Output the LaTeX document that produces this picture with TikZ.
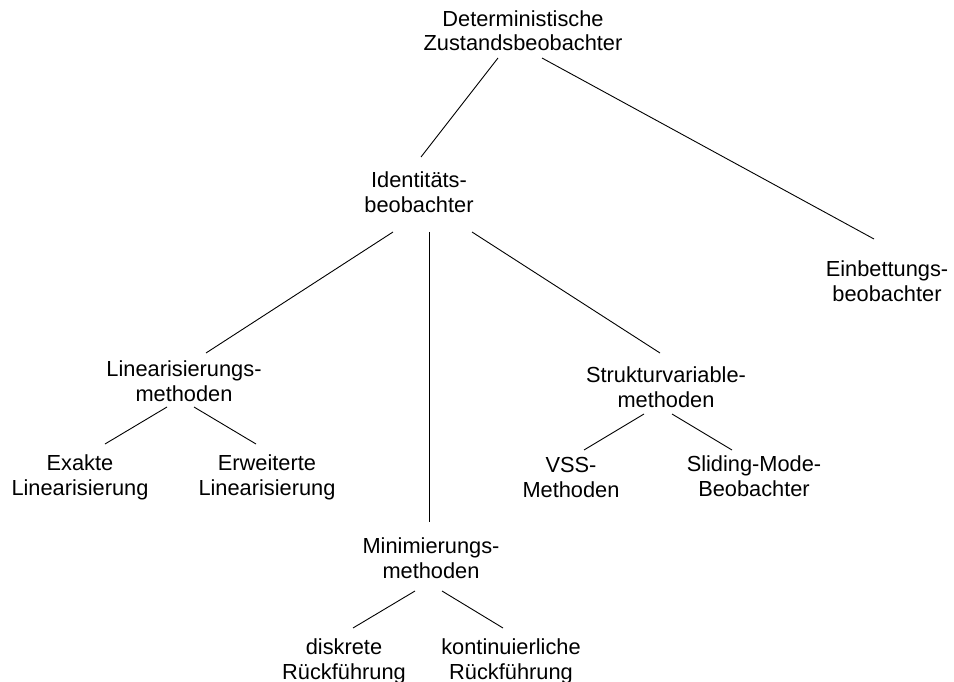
\documentclass[tikz,border=0pt]{standalone}
\usepackage{fontspec}
\setmainfont{Liberation Sans}
\begin{document}
\begin{tikzpicture}[x=1pt,y=-1pt,
  label/.style={align=center,anchor=base,inner sep=0pt,font=\fontsize{21.8}{24.5}\selectfont},
  link/.style={line width=0.9pt,black}]
\useasboundingbox (0,0) rectangle (954,682);

% tree nodes (placed at the baseline of their last line)
\node[label] (top) at (523,51)  {Deterministische\\Zustandsbeobachter};
\node[label] (id)  at (419,212) {Identitäts-\\beobachter};
\node[label] (ein) at (887,301) {Einbettungs-\\beobachter};
\node[label] (lin) at (184,401) {Linearisierungs-\\methoden};
\node[label] (str) at (666,407) {Strukturvariable-\\methoden};
\node[label] (exa) at (80,495)  {Exakte\\Linearisierung};
\node[label] (erw) at (267,495) {Erweiterte\\Linearisierung};
\node[label] (vss) at (571,497) {VSS-\\Methoden};
\node[label] (sli) at (754,496) {Sliding-Mode-\\Beobachter};
\node[label] (min) at (431,578) {Minimierungs-\\methoden};
\node[label] (dis) at (344,679) {diskrete\\Rückführung};
\node[label] (kon) at (511,679) {kontinuierliche\\Rückführung};

% connectors
\draw[link] ([shift={(-25,7)}]top.base)  -- ([shift={(2,-55)}]id.base);
\draw[link] ([shift={(19,7)}]top.base)   -- ([shift={(-13,-62)}]ein.base);
\draw[link] ([shift={(-26,20)}]id.base)  -- ([shift={(22,-48)}]lin.base);
\draw[link] ([shift={(10,20)}]id.base)   -- ([shift={(-2,-56)}]min.base);
\draw[link] ([shift={(53,20)}]id.base)   -- ([shift={(-6,-54)}]str.base);
\draw[link] ([shift={(-17,6)}]lin.base)  -- ([shift={(25,-51)}]exa.base);
\draw[link] ([shift={(10,6)}]lin.base)   -- ([shift={(-11,-51)}]erw.base);
\draw[link] ([shift={(-22,7)}]str.base)  -- ([shift={(13,-47)}]vss.base);
\draw[link] ([shift={(6,7)}]str.base)    -- ([shift={(-22,-46)}]sli.base);
\draw[link] ([shift={(-16,13)}]min.base) -- ([shift={(9,-51)}]dis.base);
\draw[link] ([shift={(11,13)}]min.base)  -- ([shift={(-8,-51)}]kon.base);
\end{tikzpicture}
\end{document}
